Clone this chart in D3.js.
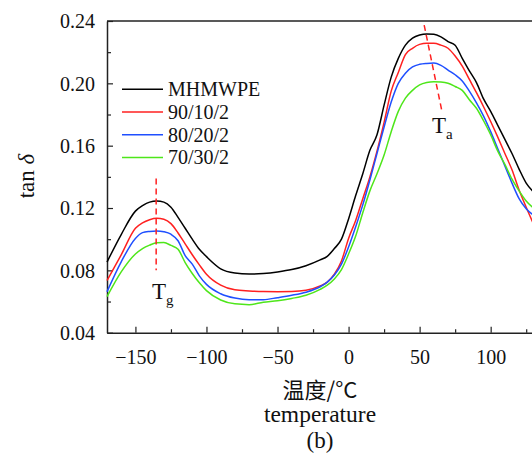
<!DOCTYPE html>
<html>

<head>
  <meta charset="UTF-8" />
  <title>tan delta vs temperature</title>
  <style>
    body {
      margin: 0;
      background: #fff;
    }

    .axis path,
    .axis line {
      stroke: #222;
    }
  </style>
  <script src="https://cdn.jsdelivr.net/npm/d3@7"></script>
</head>

<body>
  <script>
    /* temperature (°C) sample points */
    let temps = [-170, -160, -150, -145, -140, -135, -130, -125, -120, -115, -110, -105, -100, -90, -80, -70, -60, -50,
      -40, -30, -20, -15, -10, -5, 0, 5, 10, 15, 20, 25, 30, 35, 40, 45, 50, 55, 60, 65, 70, 75, 80, 85, 90, 95,
      100, 105, 110, 115, 120, 125, 130];

    let mhmwpe = [0.0853, 0.103, 0.118, 0.1215, 0.1238, 0.1245, 0.1238, 0.1205, 0.114, 0.107, 0.100, 0.0935, 0.0888,
      0.0810, 0.0783, 0.0776, 0.0780, 0.0790, 0.0805, 0.0830, 0.0867, 0.0890, 0.0940, 0.100, 0.113, 0.128, 0.142,
      0.157, 0.167, 0.186, 0.204, 0.216, 0.2245, 0.229, 0.231, 0.2317, 0.2315, 0.2298, 0.2268, 0.2245, 0.216, 0.208,
      0.2005, 0.190, 0.182, 0.173, 0.164, 0.155, 0.145, 0.136, 0.1305];

    let s90 = [0.0735, 0.090, 0.107, 0.1105, 0.1125, 0.1134, 0.1128, 0.110, 0.104, 0.097, 0.090, 0.0835, 0.0775,
      0.0705, 0.0675, 0.0668, 0.0664, 0.0663, 0.0664, 0.0672, 0.0700, 0.0725, 0.0775, 0.086, 0.1005, 0.112, 0.126,
      0.140, 0.1565, 0.175, 0.195, 0.207, 0.2185, 0.2225, 0.225, 0.2257, 0.2257, 0.2245, 0.2225, 0.2175, 0.211,
      0.2025, 0.194, 0.185, 0.1755, 0.1655, 0.155, 0.1445, 0.1315, 0.1205, 0.110];

    let s80 = [0.0663, 0.0855, 0.1005, 0.1042, 0.1050, 0.1053, 0.1048, 0.1032, 0.099, 0.0895, 0.084, 0.0765, 0.071,
      0.065, 0.0622, 0.0611, 0.0612, 0.0625, 0.0640, 0.0660, 0.0695, 0.0725, 0.077, 0.084, 0.095, 0.108, 0.122,
      0.138, 0.155, 0.172, 0.188, 0.200, 0.2065, 0.2105, 0.2122, 0.2128, 0.213, 0.2115, 0.2085, 0.2055, 0.2015,
      0.195, 0.1875, 0.179, 0.169, 0.158, 0.147, 0.136, 0.126, 0.1195, 0.1155];

    let s70 = [0.0631, 0.0790, 0.0905, 0.0940, 0.0962, 0.0977, 0.0978, 0.0960, 0.0935, 0.0850, 0.078, 0.072, 0.067,
      0.061, 0.0585, 0.0580, 0.0595, 0.0605, 0.0620, 0.0640, 0.0678, 0.0705, 0.0745, 0.0805, 0.0905, 0.102, 0.117,
      0.131, 0.142, 0.154, 0.169, 0.182, 0.1905, 0.1955, 0.199, 0.2005, 0.201, 0.2008, 0.200, 0.198, 0.1955,
      0.1895, 0.184, 0.176, 0.167, 0.1565, 0.148, 0.1385, 0.131, 0.1245, 0.120];

    let seriesNames = ["MHMWPE", "90/10/2", "80/20/2", "70/30/2"];
    let seriesValues = [mhmwpe, s90, s80, s70];
    let seriesColors = ["#000000", "#ff2020", "#1f4fff", "#4ee61a"];

    let xTicks = [-150, -100, -50, 0, 50, 100];
    let xMinor = [-125, -75, -25, 25, 75, 125];
    let yTicks = [0.04, 0.08, 0.12, 0.16, 0.20, 0.24];
    let yMinor = [0.06, 0.10, 0.14, 0.18, 0.22];

    /* dashed guide lines: [temperature, tan delta] */
    let tgLine = [[-135.4, 0.139], [-135.4, 0.080]];
    let taLine = [[53.2, 0.2374], [65.5, 0.183]];

    let serifFont = "'Liberation Serif', 'DejaVu Serif', serif";
    let width = 532;
    let height = 456;

    let svg = d3.select("body")
      .append("svg")
      .attr("width", width)
      .attr("height", height);

    let xScale = d3.scaleLinear().domain([-170, 130]).range([107, 533.3]);
    let yScale = d3.scaleLinear().domain([0.04, 0.24]).range([332.7, 21]);

    /* x axis, ticks pointing inward */
    let xAxis = svg.append("g")
      .attr("class", "axis")
      .attr("transform", `translate(0, ${yScale(0.04)})`)
      .call(d3.axisBottom(xScale)
        .tickValues(xTicks)
        .tickSizeInner(-6)
        .tickSizeOuter(0)
        .tickFormat(d => d3.format("d")(d).replace("-", "\u2212")));
    xAxis.select(".domain").attr("stroke-width", 1.5);
    xAxis.selectAll(".tick line").attr("stroke-width", 1.2);
    xAxis.selectAll("text")
      .attr("y", 31)
      .attr("dy", 0)
      .attr("font-size", 20);

    svg.append("g")
      .attr("class", "axis")
      .attr("transform", `translate(0, ${yScale(0.04)})`)
      .call(d3.axisBottom(xScale).tickValues(xMinor).tickSizeInner(-3.5).tickSizeOuter(0).tickFormat(""))
      .call(g => g.select(".domain").remove())
      .selectAll(".tick line").attr("stroke-width", 1.2);

    /* y axis */
    let yAxis = svg.append("g")
      .attr("class", "axis")
      .attr("transform", `translate(${xScale(-170)}, 0)`)
      .call(d3.axisLeft(yScale)
        .tickValues(yTicks)
        .tickSizeInner(-6)
        .tickSizeOuter(0)
        .tickPadding(12)
        .tickFormat(d3.format(".2f")));
    yAxis.select(".domain").attr("stroke-width", 1.5);
    yAxis.selectAll(".tick line").attr("stroke-width", 1.2);
    yAxis.selectAll("text")
      .attr("font-size", 20)
      .attr("dy", "0.34em");

    svg.append("g")
      .attr("class", "axis")
      .attr("transform", `translate(${xScale(-170)}, 0)`)
      .call(d3.axisLeft(yScale).tickValues(yMinor).tickSizeInner(-4).tickSizeOuter(0).tickFormat(""))
      .call(g => g.select(".domain").remove())
      .selectAll(".tick line").attr("stroke-width", 1.2);

    /* top frame line */
    svg.append("line")
      .attr("x1", xScale(-170))
      .attr("x2", width)
      .attr("y1", yScale(0.24))
      .attr("y2", yScale(0.24))
      .attr("stroke", "#222")
      .attr("stroke-width", 1.5);

    /* curves */
    let plot = svg.append("g");
    let line = d3.line()
      .x(d => xScale(d[0]))
      .y(d => yScale(d[1]))
      .curve(d3.curveMonotoneX);

    seriesValues.forEach((vals, i) => {
      plot.append("path")
        .datum(temps.map((t, j) => [t, vals[j]]))
        .attr("fill", "none")
        .attr("stroke", seriesColors[i])
        .attr("stroke-width", 1.5)
        .attr("d", line);
    });

    /* dashed guides */
    let straight = d3.line().x(d => xScale(d[0])).y(d => yScale(d[1]));
    [tgLine, taLine].forEach(pts => {
      svg.append("path")
        .attr("d", straight(pts))
        .attr("stroke", "#ff2020")
        .attr("stroke-width", 1.5)
        .attr("stroke-dasharray", "6,4")
        .attr("fill", "none");
    });

    function subLabel(x, y, main, sub) {
      let t = svg.append("text")
        .attr("x", x)
        .attr("y", y)
        .attr("font-size", 23);
      t.append("tspan").text(main);
      t.append("tspan").attr("font-size", 15).attr("dy", 6).text(sub);
    }
    subLabel(152, 299, "T", "g");
    subLabel(432, 133, "T", "a");

    /* legend */
    let legend = svg.append("g");
    seriesNames.forEach((name, i) => {
      let y = 89.3 + i * 22.7;
      legend.append("line")
        .attr("x1", 122).attr("x2", 163)
        .attr("y1", y).attr("y2", y)
        .attr("stroke", seriesColors[i])
        .attr("stroke-width", 1.5);
      legend.append("text")
        .attr("x", 168)
        .attr("y", y)
        .attr("dy", "0.35em")
        .attr("font-size", 20)
        .text(name);
    });

    /* axis titles */
    svg.append("text")
      .attr("transform", "translate(34, 176) rotate(-90)")
      .attr("text-anchor", "middle")
      .attr("font-size", 23)
      .html('tan <tspan font-style="italic">δ</tspan>');

    svg.append("text")
      .attr("x", 320).attr("y", 422)
      .attr("text-anchor", "middle")
      .attr("font-size", 23.5)
      .text("temperature");

    svg.append("text")
      .attr("x", 320).attr("y", 448)
      .attr("text-anchor", "middle")
      .attr("font-size", 23)
      .text("(b)");

    /* serif face everywhere, then the CJK title */
    svg.selectAll("text")
      .style("font-family", serifFont)
      .style("fill", "#111");

    svg.append("text")
      .attr("x", 320).attr("y", 398)
      .attr("text-anchor", "middle")
      .attr("font-size", 22)
      .style("font-family", "'Noto Sans CJK SC', " + serifFont)
      .style("fill", "#111")
      .text("温度/°C");
  </script>
</body>

</html>
